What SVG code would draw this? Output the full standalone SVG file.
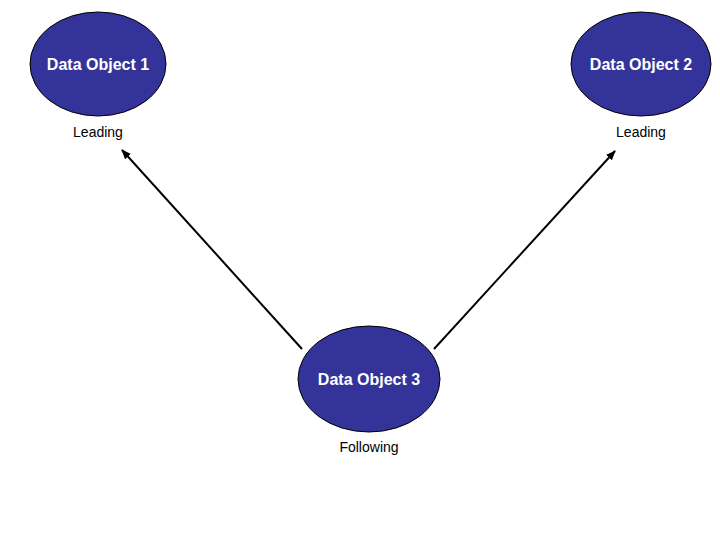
<svg xmlns="http://www.w3.org/2000/svg" width="720" height="540" viewBox="0 0 720 540">
<style>
.n{fill:#333399;stroke:#000;stroke-width:1}
.t{font-family:"Liberation Sans",Arial,sans-serif;font-weight:bold;font-size:16px;fill:#fff;text-anchor:middle}
.l{font-family:"Liberation Sans",Arial,sans-serif;font-size:14px;fill:#000;text-anchor:middle}
.c{stroke:#000;stroke-width:2;fill:none;marker-end:url(#a)}
</style>
<defs><marker id="a" markerWidth="10" markerHeight="8" refX="9" refY="4" orient="auto" markerUnits="userSpaceOnUse"><path d="M0,0L10,4L0,8z" fill="#000"/></marker></defs>
<rect width="720" height="540" fill="#fff"/>
<g id="connectors">
<line class="c" x1="302" y1="349" x2="122" y2="150"/>
<line class="c" x1="434" y1="349" x2="615" y2="151"/>
</g>
<g id="n1"><ellipse class="n" cx="98" cy="64" rx="68" ry="52"/><text class="t" x="98" y="70">Data Object 1</text><text class="l" x="98" y="137">Leading</text></g>
<g id="n2"><ellipse class="n" cx="641" cy="64" rx="70" ry="52"/><text class="t" x="641" y="70">Data Object 2</text><text class="l" x="641" y="137">Leading</text></g>
<g id="n3"><ellipse class="n" cx="369" cy="379" rx="71" ry="53"/><text class="t" x="369" y="385">Data Object 3</text><text class="l" x="369" y="452">Following</text></g>
</svg>
